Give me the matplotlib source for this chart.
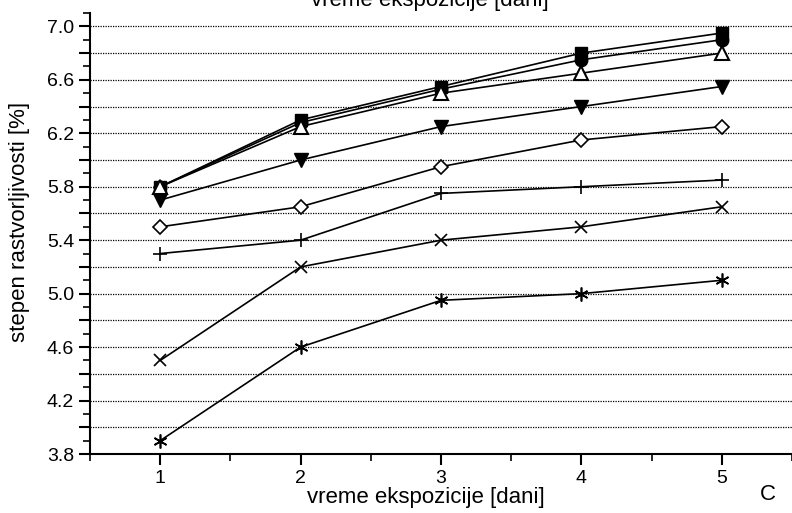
import matplotlib
matplotlib.use("Agg")
import matplotlib.pyplot as plt
import numpy as np
from matplotlib.ticker import MultipleLocator, FuncFormatter

plt.rcParams['font.family'] = ['Liberation Sans', 'DejaVu Sans']

# data
dani = [1, 2, 3, 4, 5]
kvadrat = [5.8, 6.3, 6.55, 6.8, 6.95]
krug = [5.8, 6.28, 6.53, 6.75, 6.9]
trougao = [5.8, 6.25, 6.5, 6.65, 6.8]
trougao_dole = [5.7, 6.0, 6.25, 6.4, 6.55]
romb = [5.5, 5.65, 5.95, 6.15, 6.25]
plus = [5.3, 5.4, 5.75, 5.8, 5.85]
iks = [4.5, 5.2, 5.4, 5.5, 5.65]
zvezda = [3.9, 4.6, 4.95, 5.0, 5.1]

fig = plt.figure(figsize=(7.92, 5.13), dpi=100)
ax = fig.add_axes([90/792, 1-454/513, 1-90/792, (454-13)/513])

#grid lines
for g in np.arange(4.0, 7.01, 0.2):
    ax.axhline(g, color='black', lw=0.9, ls=(0, (1, 1)), zorder=1)

lw = 1.2
ax.plot(dani, krug, color='black', lw=lw, marker='o', ms=9, mfc='black', zorder=3)
ax.plot(dani, kvadrat, color='black', lw=lw, marker='s', ms=8.5, mfc='black', zorder=4)
ax.plot(dani, trougao, color='black', lw=lw, marker='^', ms=10, mfc='white', mew=1.5, zorder=5)
ax.plot(dani, trougao_dole, color='black', lw=lw, marker='v', ms=10, mfc='black', zorder=3)
ax.plot(dani, romb, color='black', lw=lw, marker='D', ms=7, mfc='white', mew=1.2, zorder=3)
ax.plot(dani, plus, color='black', lw=lw, marker='+', ms=10, mew=1.2, zorder=3)
ax.plot(dani, iks, color='black', lw=lw, marker='x', ms=9, mew=1.2, zorder=3)
ax.plot(dani, zvezda, color='black', lw=lw, marker=(6, 2, 0), ms=10, mew=1.2, zorder=3)

ax.set_xlim(0.5, 5.5)
ax.set_ylim(3.8, 7.1)

ax.spines['right'].set_visible(False)
ax.spines['top'].set_visible(False)
ax.spines['left'].set_linewidth(1.5)
ax.spines['bottom'].set_linewidth(1.5)

def ylab(v, p):
    k = round((v - 3.8) / 0.2)
    if k % 2 == 0:
        return '%.1f' % v
    return ''

ax.xaxis.set_major_locator(MultipleLocator(1))
ax.xaxis.set_minor_locator(MultipleLocator(0.5))
ax.yaxis.set_major_locator(MultipleLocator(0.2))
ax.yaxis.set_minor_locator(MultipleLocator(0.1))
ax.yaxis.set_major_formatter(FuncFormatter(ylab))
ax.xaxis.set_major_formatter(FuncFormatter(lambda v, p: '%d' % v if 1 <= v <= 5 else ''))

ax.tick_params(which='major', direction='out', length=8, width=1.5, labelsize=14)
ax.tick_params(which='minor', direction='out', length=5, width=1.2)

ax.set_ylabel('stepen rastvorljivosti [%]', fontsize=16)
ax.yaxis.set_label_coords(-70/702, (454 - 222) / 441)
ax.set_xlabel('vreme ekspozicije [dani]', fontsize=16)
ax.xaxis.set_label_coords((426 - 90) / 702, -(497 - 454) / 441)
ax.xaxis.label.set_va('center')
ax.yaxis.label.set_va('center')

fig.text(430/792, 1 - 6/513, 'vreme ekspozicije [dani]', fontsize=16, ha='center', va='baseline')
fig.text(768/792, 1 - 495/513, 'C', fontsize=16, ha='center', va='center')

fig.savefig('out.png', dpi=100)
